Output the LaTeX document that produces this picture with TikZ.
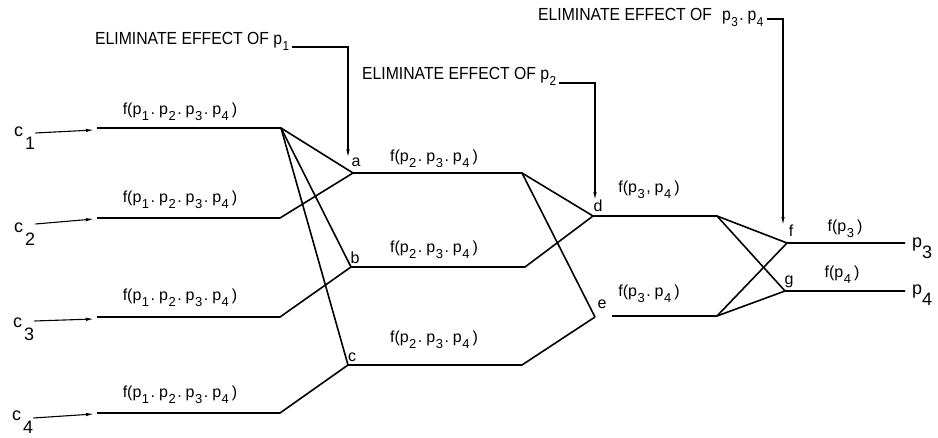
\documentclass[tikz,border=0pt]{standalone}
\usepackage{fontspec}
\setmainfont{Liberation Sans}
\newfontfamily\elimfont{Liberation Sans}[FakeStretch=0.9]
\usetikzlibrary{arrows.meta}
\newcommand\sbs[1]{\raisebox{-6pt}{\fontsize{13}{13}\selectfont #1}}
\newcommand\pp[1]{p\kern0.5pt\sbs{#1}}
\newcommand\sepd{\kern1.5pt.\kern4pt}
\newcommand\bigsub[1]{\kern2pt\raisebox{-13pt}{#1}}
\begin{document}
\begin{tikzpicture}[x=1pt,y=-1pt,
  wire/.style={line width=1.6pt},
  ptr/.style={line width=1.1pt,-{Latex[length=8pt,width=3.5pt]}},
  flab/.style={font=\fontsize{16}{18}\selectfont,inner sep=0pt,anchor=base},
  jlab/.style={font=\fontsize{16}{18}\selectfont,inner sep=0pt},
  clab/.style={font=\fontsize{18}{20}\selectfont,inner sep=0pt,anchor=base west},
  elab/.style={font=\elimfont\fontsize{17.5}{19}\selectfont,inner sep=0pt,anchor=base west}]
\useasboundingbox[fill=white] (0,0) rectangle (938,438);

% input labels
\node[clab] (c1) at (14,137) {c\bigsub{1}};
\node[clab] (c2) at (14,233) {c\bigsub{2}};
\node[clab] (c3) at (13,328) {c\bigsub{3}};
\node[clab] (c4) at (12,421) {c\bigsub{4}};

% coordinates
\coordinate (t1) at (94,130);
\coordinate (t2) at (94,219);
\coordinate (t3) at (94,319);
\coordinate (t4) at (94,414);
\coordinate (s1) at (97,128);
\coordinate (s2) at (97,218);
\coordinate (s3) at (97,317);
\coordinate (s4) at (97,413);
\coordinate (k1) at (281,128);
\coordinate (k2) at (280,218);
\coordinate (k3) at (280,317);
\coordinate (k4) at (280,413);
\coordinate (ja) at (353,173);
\coordinate (jb) at (351,267);
\coordinate (jc) at (348,365);
\coordinate (m1) at (522,173);
\coordinate (m2) at (525,267);
\coordinate (m3) at (522,365);
\coordinate (jd) at (593,216);
\coordinate (je) at (595,317);
\coordinate (e2) at (612,316);
\coordinate (m4) at (717,216);
\coordinate (m5) at (717,316);
\coordinate (jf) at (787,243);
\coordinate (jg) at (785,291);
\coordinate (o3) at (905,243);
\coordinate (o4) at (905,291);

% input arrows
\draw[ptr] (c1.east |- 0,133) -- (t1);
\draw[ptr] (c2.east |- 0,224) -- (t2);
\draw[ptr] (c3.east |- 0,321) -- (t3);
\draw[ptr] (c4.east |- 0,418) -- (t4);

% wires
\draw[wire] (s1) -- (k1) -- (ja) -- (m1) -- (jd) -- (m4) -- (jf) -- (o3);
\draw[wire] (k1) -- (jb);
\draw[wire] (k1) -- (jc);
\draw[wire] (s2) -- (k2) -- (ja);
\draw[wire] (s3) -- (k3) -- (jb) -- (m2) -- (jd);
\draw[wire] (s4) -- (k4) -- (jc) -- (m3) -- (je);
\draw[wire] (m1) -- (je);
\draw[wire] (e2) -- (m5) -- (jf);
\draw[wire] (m4) -- (jg) -- (o4);
\draw[wire] (m5) -- (jg);

% junction letters
\node[jlab] (la) at (356,162) {a};
\node[jlab] (lb) at (355,258) {b};
\node[jlab] (lc) at (352,357) {c};
\node[jlab] (ld) at (598,206) {d};
\node[jlab] (le) at (602,304) {e};
\node[jlab] (lf) at (791,231) {f};
\node[jlab] (lg) at (789,282) {g};

% function labels
\node[flab] (f1) at (180,115) {f(\pp1\sepd\pp2\sepd\pp3\sepd\pp4\kern3pt)};
\node[flab] (f2) at (180,203) {f(\pp1\sepd\pp2\sepd\pp3\sepd\pp4\kern3pt)};
\node[flab] (f3) at (180,301) {f(\pp1\sepd\pp2\sepd\pp3\sepd\pp4\kern3pt)};
\node[flab] (f4) at (180,398) {f(\pp1\sepd\pp2\sepd\pp3\sepd\pp4\kern3pt)};
\node[flab] (fa) at (434,162) {f(\pp2\sepd\pp3\sepd\pp4\kern3pt)};
\node[flab] (fb) at (434,253) {f(\pp2\sepd\pp3\sepd\pp4\kern3pt)};
\node[flab] (fc) at (434,343) {f(\pp2\sepd\pp3\sepd\pp4\kern3pt)};
\node[flab] (fd) at (649,193) {f(\pp3\kern1.5pt,\kern4pt\pp4\kern3pt)};
\node[flab] (fe) at (649,297) {f(\pp3\sepd\pp4\kern3pt)};
\node[flab] (ff) at (845,232) {f(\pp3\kern3pt)};
\node[flab] (fg) at (842,278) {f(\pp4\kern3pt)};

% outputs
\node[clab] (p3) at (912,248) {p\raisebox{-11pt}{3}};
\node[clab] (p4) at (912,295) {p\raisebox{-11pt}{4}};

% eliminate labels
\node[elab] (e1) at (95,45) {ELIMINATE EFFECT OF \pp1};
\node[elab] (e2t) at (362,80) {ELIMINATE EFFECT OF \pp2};
\node[elab] (e3t) at (538,21) {ELIMINATE EFFECT OF\kern10pt\pp3\sepd\pp4};
\coordinate (b1) at (348,47);
\coordinate (b2) at (595,83);
\coordinate (b3) at (783,19);
\draw[ptr] ([xshift=3pt]e1.east |- b1) -- (b1) -- (b1 |- la.north);
\draw[ptr] ([xshift=3pt]e2t.east |- b2) -- (b2) -- (b2 |- ld.north);
\draw[ptr] ([xshift=3pt]e3t.east |- b3) -- (b3) -- (b3 |- lf.north);
\end{tikzpicture}
\end{document}
